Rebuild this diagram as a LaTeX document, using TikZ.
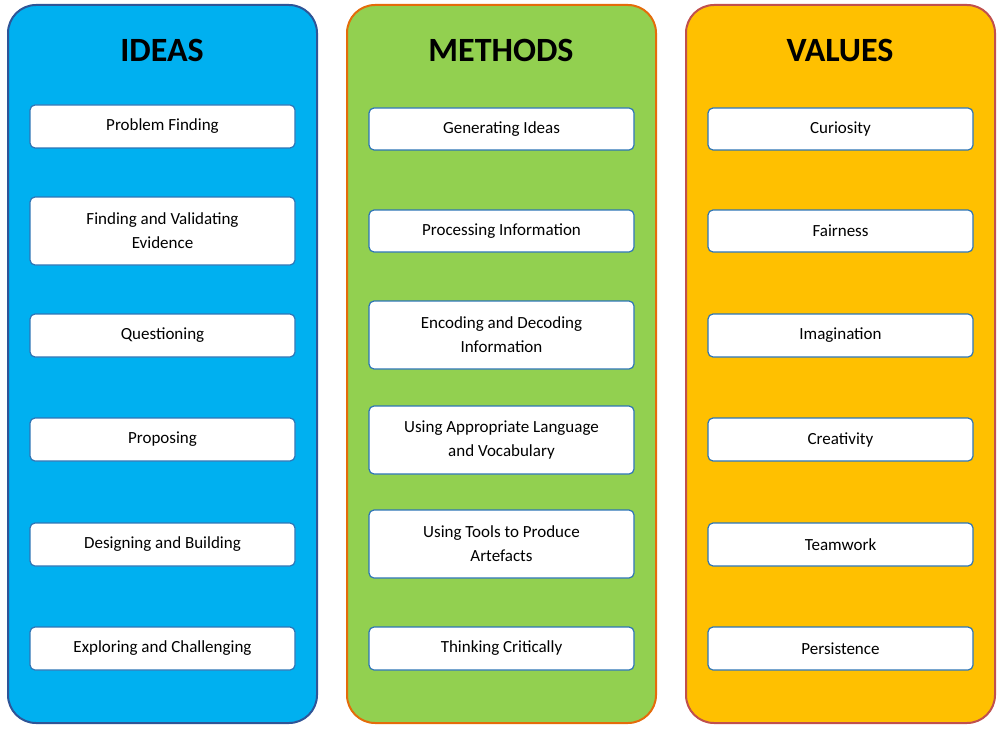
\documentclass[tikz,border=0pt]{standalone}
\usepackage{fontspec}
\setmainfont{Carlito}
\begin{document}
\begin{tikzpicture}[x=1pt,y=-1pt,
 col/.style={draw=#1,line width=2pt,rounded corners=28pt},
 item/.style={draw=boxblue,line width=1.2pt,fill=white,rounded corners=5pt,align=center,font=\fontsize{17}{24}\selectfont},
 ttl/.style={font=\fontsize{34}{38}\selectfont\bfseries}]
\definecolor{boxblue}{HTML}{2E75B6}
\definecolor{cblue}{HTML}{00B0F0}
\definecolor{cgreen}{HTML}{92D050}
\definecolor{corange}{HTML}{FFC000}
\definecolor{bblue}{HTML}{2F5597}
\definecolor{bgreen}{HTML}{E46C0A}
\definecolor{borange}{HTML}{C0504D}
\useasboundingbox (0,0) rectangle (1000,730);
\path[col=bblue,fill=cblue] (8,5) rectangle (317,723);
\path[col=bgreen,fill=cgreen] (347,5) rectangle (656,723);
\path[col=borange,fill=corange] (686,5) rectangle (995,723);
\node[ttl] (t1) at (162,50) {IDEAS};
\node[ttl] (t2) at (501,50) {METHODS};
\node[ttl] (t3) at (840,50) {VALUES};
\foreach \n/\ya/\yb/\t in {a1/105/148/{Problem Finding},a2/197/265/{Finding and Validating\\Evidence},a3/314/357/Questioning,a4/418/461/Proposing,a5/523/566/{Designing and Building},a6/627/670/{Exploring and Challenging}}
 \node[item,minimum width=265pt,minimum height=\yb-\ya] (\n) at (162.5,{(\ya+\yb)/2}) {\t};
\foreach \n/\ya/\yb/\t in {b1/108/150/{Generating Ideas},b2/210/252/{Processing Information},b3/301/369/{Encoding and Decoding\\Information},b4/406/474/{Using Appropriate Language\\and Vocabulary},b5/510/578/{Using Tools to Produce\\Artefacts},b6/627/670/{Thinking Critically}}
 \node[item,minimum width=265pt,minimum height=\yb-\ya] (\n) at (501.5,{(\ya+\yb)/2}) {\t};
\foreach \n/\ya/\yb/\t in {c1/108/150/Curiosity,c2/210/252/Fairness,c3/314/357/Imagination,c4/418/461/Creativity,c5/523/566/Teamwork,c6/627/670/Persistence}
 \node[item,minimum width=265pt,minimum height=\yb-\ya] (\n) at (840.5,{(\ya+\yb)/2}) {\t};
\end{tikzpicture}
\end{document}
